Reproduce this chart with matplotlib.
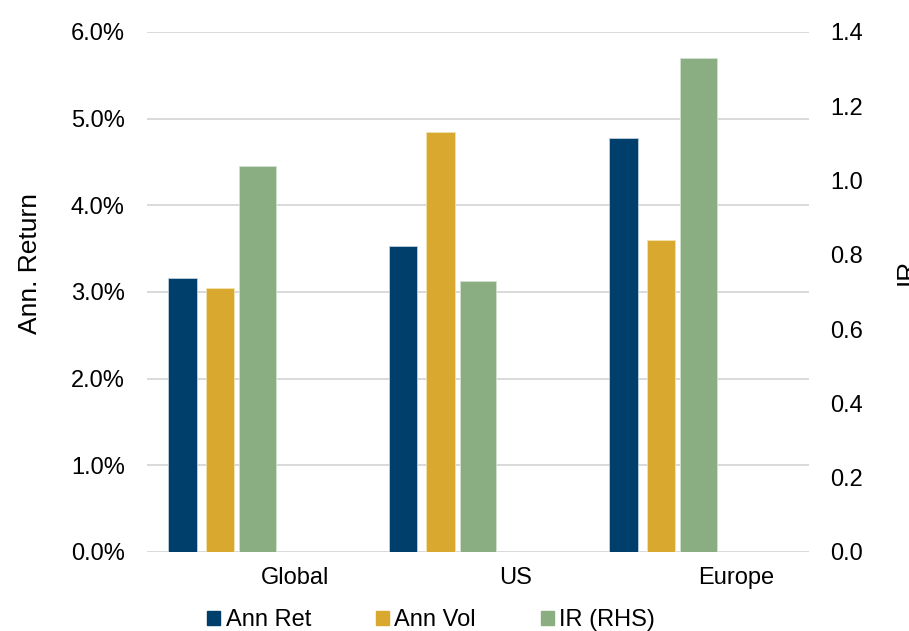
import matplotlib.pyplot as plt
import numpy as np
from matplotlib.patches import Patch

plt.rcParams['font.family'] = ['Liberation Sans', 'DejaVu Sans']

# ---------------------------------------------------------------------------
# Data
# ---------------------------------------------------------------------------
regions = ["Global", "US", "Europe"]
ann_ret = [3.16, 3.53, 4.78]      # %
ann_vol = [3.05, 4.85, 3.60]      # %
info_ratio = [1.04, 0.73, 1.33]   # RHS

NAVY = "#003F6B"
GOLD = "#D9A82E"
GREEN = "#8AAD82"
GRID = "#D9D9D9"
FS = 17

fig = plt.figure(figsize=(9.09, 6.31), dpi=100)
ax = fig.add_axes([147 / 909, 79 / 631, 662 / 909, 520 / 631])
ax2 = ax.twinx()

x = np.arange(len(regions))
ax.bar(x - 0.34, ann_ret, width=0.13, color=NAVY, edgecolor="#BFD0DE", linewidth=0.6, zorder=3)
ax.bar(x - 0.17, ann_vol, width=0.128, color=GOLD, edgecolor="#F2E2B0", linewidth=0.6, zorder=3)
ax2.bar(x, info_ratio, width=0.166, color=GREEN, edgecolor="#D3E2CF", linewidth=0.6, zorder=3)

ax.set_xlim(-0.5, 2.5)
ax.set_ylim(0, 6)
ax2.set_ylim(0, 1.4)
ax.set_yticks(np.arange(0, 6.1, 1))
ax.set_yticklabels([f"{v:.1f}%" for v in np.arange(0, 6.1, 1)])
ax2.set_yticks(np.arange(0, 1.41, 0.2))
ax2.set_yticklabels([f"{v:.1f}" for v in np.arange(0, 1.41, 0.2)])
ax.set_xticks(x + 0.171)
ax.set_xticklabels(regions)

for a in (ax, ax2):
    for s in a.spines.values():
        s.set_visible(False)
    a.tick_params(length=0, labelsize=FS, colors="#000000")
ax.tick_params(axis="y", pad=16)
ax2.tick_params(axis="y", pad=15)
ax.tick_params(axis="x", pad=11)

ax.set_axisbelow(True)
ax.grid(axis="y", color=GRID, linewidth=1.4)
ax.set_ylabel("Ann. Return", fontsize=19)
ax.yaxis.set_label_coords(-0.159, 0.555)

# right-hand axis title sits partly off the canvas in the reference
fig.text(895 / 909, 1 - 272 / 631, "IR", rotation=90, fontsize=19,
         ha="left", va="center")

handles = [Patch(color=NAVY), Patch(color=GOLD), Patch(color=GREEN)]
fig.legend(handles, ["Ann Ret", "Ann Vol", "IR (RHS)"], ncol=3, frameon=False,
           loc="center", bbox_to_anchor=(431 / 909, 1 - 620 / 631), fontsize=FS,
           handlelength=0.55, handleheight=0.55, handletextpad=0.22,
           columnspacing=2.75, borderpad=0)

plt.savefig("out.png", dpi=100)
